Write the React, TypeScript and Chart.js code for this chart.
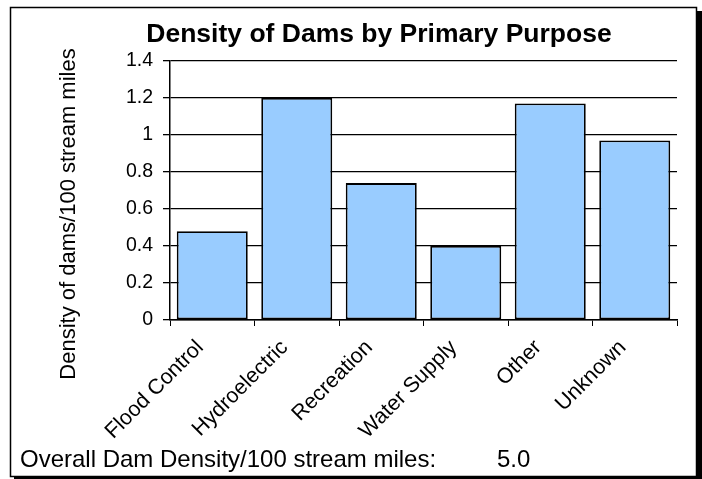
import React, { useEffect, useRef } from "react";
import { Chart, registerables } from "chart.js";

Chart.register(...registerables);

const categories = ["Flood Control", "Hydroelectric", "Recreation", "Water Supply", "Other", "Unknown"];
const densityValues = [0.48, 1.2, 0.74, 0.4, 1.17, 0.97];
const yTickLabels = ["0", "0.2", "0.4", "0.6", "0.8", "1", "1.2", "1.4"];
const chartTitle = "Density of Dams by Primary Purpose";
const yAxisTitle = "Density of dams/100 stream miles";
const footerLabel = "Overall Dam Density/100 stream miles:";
const footerValue = "5.0";

const FONT = "'Liberation Sans', Arial, Helvetica, sans-serif";

const framePlugin = {
  id: "frame",
  beforeDraw(chart: any) {
    const ctx = chart.ctx;
    ctx.save();
    ctx.fillStyle = "#ffffff";
    ctx.fillRect(0, 0, chart.width, chart.height);
    ctx.fillStyle = "#000000";
    ctx.fillRect(14, 11, 700, 480);
    ctx.fillStyle = "#ffffff";
    ctx.fillRect(10, 7, 687, 470);
    ctx.strokeStyle = "#000000";
    ctx.lineWidth = 1.5;
    ctx.strokeRect(10.5, 7.5, 686, 469);
    ctx.restore();
  },
  afterDraw(chart: any) {
    const ctx = chart.ctx;
    ctx.save();
    ctx.fillStyle = "#000000";
    // title
    ctx.font = `bold 26.5px ${FONT}`;
    ctx.textAlign = "center";
    ctx.textBaseline = "alphabetic";
    ctx.fillText(chartTitle, 379, 42);
    // footer
    ctx.font = `24px ${FONT}`;
    ctx.textAlign = "left";
    ctx.fillText(footerLabel, 20, 467);
    ctx.fillText(footerValue, 497, 467);
    // y axis title
    ctx.font = `22px ${FONT}`;
    ctx.translate(75, 214);
    ctx.rotate(-Math.PI / 2);
    ctx.textAlign = "center";
    ctx.fillText(yAxisTitle, 0, 0);
    ctx.restore();
  },
};

export default function App() {
  const canvasRef = useRef<HTMLCanvasElement | null>(null);

  useEffect(() => {
    if (!canvasRef.current) return;
    Chart.defaults.font.family = FONT;
    Chart.defaults.color = "#000000";
    const chart = new Chart(canvasRef.current, {
      type: "bar",
      data: {
        labels: categories,
        datasets: [
          {
            data: densityValues,
            backgroundColor: "#99CCFF",
            borderColor: "#000000",
            borderWidth: 1.8,
            borderSkipped: false,
            categoryPercentage: 1,
            barPercentage: 0.84,
          },
        ],
      },
      options: {
        animation: false,
        responsive: true,
        maintainAspectRatio: false,
        layout: { padding: { left: 0, right: 25, top: 61, bottom: 0 } },
        plugins: {
          legend: { display: false },
          title: { display: false },
          tooltip: { enabled: false },
        },
        scales: {
          x: {
            offset: true,
            grid: {
              display: true,
              offset: true,
              drawOnChartArea: false,
              drawTicks: true,
              tickLength: 6,
              color: "#000000",
              lineWidth: 1,
            },
            border: { display: true, color: "#000000", width: 1.5 },
            ticks: {
              autoSkip: false,
              minRotation: 45,
              maxRotation: 45,
              padding: 9,
              labelOffset: -12,
              font: { size: 21.5 },
              color: "#000000",
            },
            afterFit(scale: any) {
              scale.height = 159;
            },
          },
          y: {
            min: 0,
            max: 1.4,
            ticks: {
              stepSize: 0.2,
              padding: 10,
              font: { size: 19.5 },
              color: "#000000",
              callback: (_v: any, i: number) => yTickLabels[i],
            },
            grid: {
              color: "#000000",
              lineWidth: 1.3,
              drawTicks: true,
              tickLength: 7,
            },
            border: { display: true, color: "#000000", width: 1.5 },
            afterFit(scale: any) {
              scale.width = 170;
            },
          },
        },
      },
      plugins: [framePlugin],
    });
    return () => chart.destroy();
  }, []);

  return (
    <div style={{ position: "absolute", left: 0, top: 0, width: 702, height: 479 }}>
      <canvas ref={canvasRef} />
    </div>
  );
}
